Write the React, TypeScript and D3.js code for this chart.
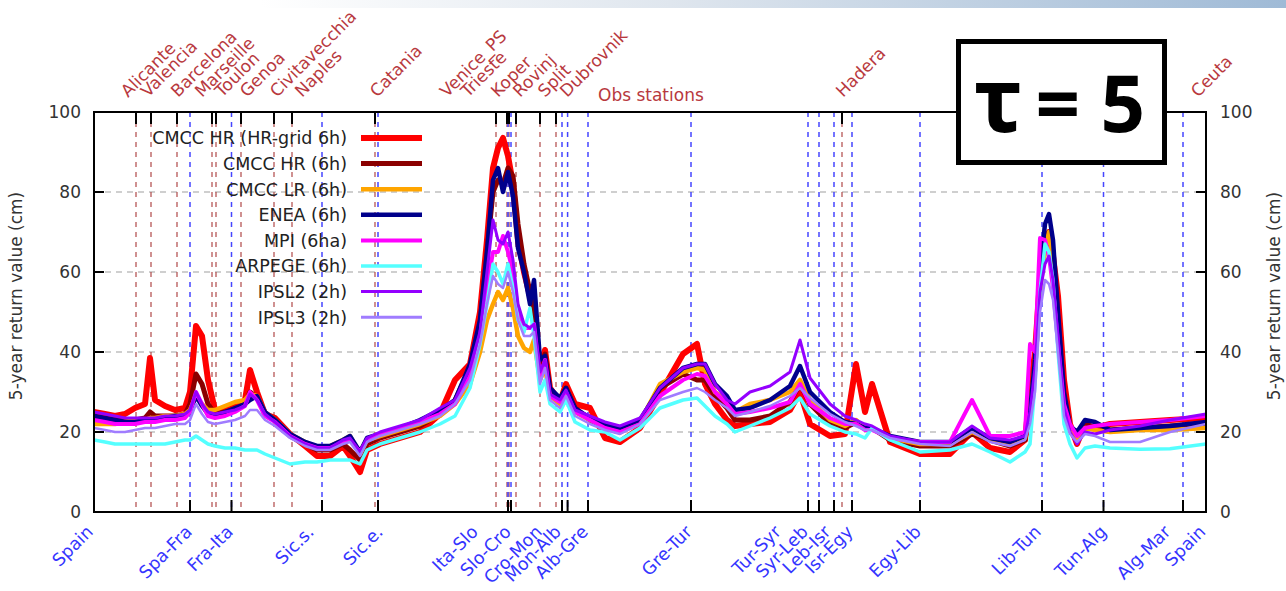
import React, { useEffect, useRef } from 'react'
import { select, scaleLinear, line } from 'd3'

// along-coast position of each sample (coast index, Spain -> ... -> Spain)
const coastIdx = [0, 11, 21, 31, 41, 51, 56, 61, 71, 81, 91, 96, 102, 108, 114, 121, 131, 141, 151, 156, 163, 171, 181, 196, 211, 223, 236, 249, 256, 266, 273, 286, 306, 326, 346, 361, 376, 386, 393, 399, 404, 409, 414, 419, 424, 430, 436, 440, 446, 451, 456, 466, 472, 481, 496, 511, 526, 546, 566, 589, 603, 611, 621, 633, 641, 656, 676, 696, 706, 716, 736, 751, 762, 771, 778, 796, 826, 856, 878, 896, 916, 931, 936, 941, 946, 951, 955, 959, 964, 970, 976, 983, 991, 1001, 1016, 1046, 1076, 1112]

// 5-year return values (cm)
const cmccHrGrid = [25, 24.5, 24, 24.5, 26, 27, 38.5, 28, 26.5, 25.5, 26, 30, 46.5, 44, 33, 25.5, 25.5, 26.5, 28, 35.5, 30, 24.5, 23.5, 19.5, 16.5, 14, 14, 16.5, 14, 10, 15.5, 17, 18.5, 20, 24.5, 33, 37, 50, 68, 86, 91, 93.5, 89, 82, 68, 60, 54, 49, 36, 40.5, 31, 27.5, 32, 27, 26, 18.5, 17.5, 21, 29.5, 39.5, 42, 32, 27, 23, 21.5, 22, 22.5, 25.5, 30, 22, 19, 19.5, 37, 25, 32, 17.5, 14.5, 14.5, 20, 16, 15, 18, 30, 40, 58, 67, 70, 64, 54, 33, 22, 17, 22, 21, 22, 22.5, 23, 23.5]
const cmccHr = [24, 23, 23, 23, 23, 23.5, 25, 24, 24, 24, 24.5, 27, 34.5, 32, 27, 24.5, 25, 25.5, 27, 30, 28.5, 24.5, 23, 19, 17, 15.5, 15.5, 17, 15.5, 13, 17, 18.5, 20, 21.5, 24.5, 28, 36, 47, 65, 80, 83, 82, 86, 84, 72, 62, 55, 50, 37, 39.5, 30.5, 28, 31, 26, 23, 21, 20, 22.5, 31, 34.5, 33, 33, 29, 26, 23, 23, 24, 27.5, 32, 27, 22, 21, 22.5, 21, 21, 18, 16.5, 16.5, 19.5, 18, 16.5, 18, 26, 36, 57, 68, 70, 64, 48, 28, 21, 18.5, 22, 21, 20.5, 21, 21.5, 22]
const cmccLr = [22, 22, 22, 22.5, 23, 23, 23.5, 23.5, 24, 24, 24.5, 25.5, 29, 27, 25.5, 25.5, 26.5, 27.5, 28, 29.5, 29, 25, 23, 19.5, 17.5, 16, 16.5, 18, 19, 14.5, 18, 19, 20.5, 22, 24, 27, 32, 40, 48, 52, 55, 53, 56, 51, 44, 41, 40, 43, 33, 36, 29, 27, 30, 25, 23, 21.5, 20.5, 22.5, 32, 35, 36, 35.5, 30, 28, 25, 27, 28, 30, 33, 28, 23, 21.5, 23, 21, 21, 18.5, 17, 17, 20, 18, 17, 18.5, 25, 37, 55, 66, 70, 62, 47, 28, 21, 18, 21, 20.5, 20, 20.5, 20.5, 21]
const enea = [24, 23.5, 23, 22.5, 22.5, 23, 23, 23, 23.5, 24, 24, 25, 29, 26.5, 24.5, 24, 25, 26, 27, 28, 29, 25, 23, 19.5, 17.5, 16.5, 16.5, 18, 19, 15, 18.5, 19.5, 21, 23, 25.5, 28, 37, 48, 65, 83, 86, 80, 85, 79, 66, 60, 52, 58, 38, 39, 31, 28.5, 31, 26, 23.5, 22, 21, 23, 31, 36, 37, 37, 32, 29, 25.5, 26, 28, 31.5, 36.5, 30, 25, 22.5, 22, 21, 21, 19, 17.5, 17.5, 21, 18.5, 17.5, 19, 25, 38, 60, 72, 74.5, 68, 50, 30, 21.5, 20, 23, 22.5, 20.5, 21, 21.5, 22.5]
const mpi = [23, 22.5, 22, 22, 22, 22.5, 22.5, 22.5, 23, 23, 23.5, 25, 30, 27, 24, 23.5, 24, 25, 26.5, 30, 28, 24, 22.5, 19, 17, 16, 16, 17.5, 18, 15, 18, 19.5, 21, 22.5, 24.5, 27, 34, 44, 56, 65, 65, 69, 65, 60, 50, 46, 46, 47, 34, 38, 29, 27.5, 30, 25, 23, 21, 20, 22, 29, 33, 34.5, 34, 30, 27, 24.5, 25, 26, 27.5, 32, 27, 23.5, 22, 22, 20.5, 20.5, 18.5, 17.5, 17.5, 28, 19, 19, 20, 42, 40, 68.5, 68, 64, 56, 42, 27, 22, 19, 21, 21.5, 22, 22.5, 23, 24]
const arpege = [18, 17.5, 17, 17, 17, 17, 17, 17, 17, 17.5, 18, 18, 19, 18, 17, 16.5, 16, 16, 15.5, 15.5, 15.5, 14.5, 13.5, 12, 12.5, 12.5, 13, 13, 13, 12, 15.5, 17, 18.5, 20, 22, 24, 31, 42, 52, 62, 60, 57, 62, 56, 48, 45, 51, 44, 30, 33, 27, 25, 28, 22.5, 20.5, 20, 18, 21, 26, 28, 28.5, 26.5, 24, 22, 20, 21.5, 23.5, 26, 28.5, 24.5, 21.5, 20, 19.5, 18.5, 21, 18, 15, 15.5, 17, 15, 12.5, 15, 17, 32, 55, 67, 65, 58, 40, 22, 17, 13.5, 16, 16.5, 16, 15.7, 15.8, 17]
const ipsl2 = [25, 24.5, 24, 23.5, 23.5, 23.5, 23.5, 23.5, 24, 24, 24.5, 25.5, 30, 27, 25, 24.5, 25, 25.5, 26.5, 29.5, 28, 24.5, 22.5, 19, 17, 16, 16, 18, 18.5, 15, 18.5, 20, 21.5, 23, 26, 28, 36, 45, 60, 73, 68, 67, 70, 63, 52, 47, 46, 47, 35, 38, 29.5, 28, 30.5, 25.5, 24, 22.5, 21.5, 23.5, 31, 36, 37, 37, 32, 28, 27, 30, 31.5, 35, 43, 33.5, 27, 24, 23, 22, 21.5, 19, 17.5, 17.5, 21.5, 18.5, 18, 19, 25, 36, 55, 62, 64, 58, 44, 26, 20, 17, 20, 19.5, 20.5, 21.5, 23, 24.5]
const ipsl3 = [21, 20.5, 20, 20, 20.5, 21, 21, 21, 21.5, 22, 22, 23, 27, 24.5, 22.5, 22, 22.5, 23, 24, 25.5, 25.5, 23, 21.5, 18.5, 16.5, 15.5, 15.5, 17, 17.5, 14, 17.5, 19, 20.5, 22, 24, 27, 33, 42, 52, 59, 57, 56, 60, 55, 48, 44, 44, 45, 32, 36, 28, 26, 29, 24, 22, 20.5, 19.5, 22, 28, 30, 31, 30, 28, 26, 24, 25, 26.5, 29, 31, 28.5, 24.5, 22.5, 21.5, 20.5, 20.5, 18.5, 17, 16.5, 20, 17.5, 16.5, 18, 22, 30, 50, 58, 57, 53, 40, 24, 19.5, 17.5, 19.5, 19, 17.5, 17.5, 20, 22]

const seriesNames = ['CMCC HR (HR-grid 6h)', 'CMCC HR (6h)', 'CMCC LR (6h)', 'ENEA (6h)', 'MPI (6ha)', 'ARPEGE (6h)', 'IPSL2 (2h)', 'IPSL3 (2h)']
const seriesValues = [cmccHrGrid, cmccHr, cmccLr, enea, mpi, arpege, ipsl2, ipsl3]
const seriesColors = ['#ff0000', '#8b0000', '#ffa500', '#00008b', '#ff00ff', '#55ffff', '#9400ff', '#a07cff']
const seriesWidths = [6, 5, 4.5, 4.5, 4, 3.5, 3, 2.5]

// country borders along the coast
const borderNames = ['Spain', 'Spa-Fra', 'Fra-Ita', 'Sic.s.', 'Sic.e.', 'Ita-Slo', 'Slo-Cro', 'Cro-Mon', 'Mon-Alb', 'Alb-Gre', 'Gre-Tur', 'Tur-Syr', 'Syr-Leb', 'Leb-Isr', 'Isr-Egy', 'Egy-Lib', 'Lib-Tun', 'Tun-Alg', 'Alg-Mar', 'Spain']
const borderAt = [0, 96, 137.5, 228, 284, 414, 417, 468, 473.6, 494, 597, 714, 725, 740, 758, 826, 948, 1009.5, 1089, 1112]
const borderLabelAt = [0, 99, 140, 221, 290, 385, 418, 449, 468, 495, 599, 688, 715, 737.6, 760, 828, 948, 1013.6, 1077.5, 1112.5]

// tide gauge stations
const stationNames = ['Alicante', 'Valencia', 'Barcelona', 'Marseille', 'Toulon', 'Genoa', 'Civitavecchia', 'Naples', 'Catania', 'Venice_PS', 'Trieste', 'Koper', 'Rovinj', 'Split', 'Dubrovnik', 'Hadera', 'Ceuta']
const stationAt = [42, 57, 83, 118, 122, 147, 180, 198, 281, 402, 413, 415, 422, 446, 462, 748, null]
const stationLabelAt = [34, 54, 84, 108, 128, 153, 183, 208, 283, 353, 374, 404, 426, 451, 473, 749, 1104]

const yTicks = [0, 20, 40, 60, 80, 100]

const W = 1286
const H = 591
const margin = { top: 112, right: 80, bottom: 79, left: 94 }
const font = "'DejaVu Sans', Verdana, sans-serif"
const stationRed = '#b8393e'
const borderBlue = '#3434ff'

function drawChart(svg: any) {
  const iw = W - margin.left - margin.right
  const ih = H - margin.top - margin.bottom
  const x = scaleLinear().domain([0, 1112]).range([margin.left, margin.left + iw])
  const y = scaleLinear().domain([0, 100]).range([margin.top + ih, margin.top])

  svg.append('rect').attr('width', W).attr('height', H).attr('fill', '#fff')

  // slide decoration band on top
  const defs = svg.append('defs')
  const grad = defs.append('linearGradient').attr('id', 'topband').attr('x1', 0).attr('x2', 1).attr('y1', 0).attr('y2', 0)
  grad.append('stop').attr('offset', '0%').attr('stop-color', '#ffffff')
  grad.append('stop').attr('offset', '40%').attr('stop-color', '#dfe6ee')
  grad.append('stop').attr('offset', '100%').attr('stop-color', '#9fbad6')
  svg.append('rect').attr('x', 260).attr('y', 0).attr('width', W - 260).attr('height', 8).attr('fill', 'url(#topband)')

  defs.append('clipPath').attr('id', 'plotclip')
    .append('rect').attr('x', margin.left).attr('y', margin.top).attr('width', iw).attr('height', ih)

  // horizontal grid
  svg.append('g').selectAll('line').data(yTicks.filter(d => d > 0 && d < 100)).join('line')
    .attr('x1', margin.left).attr('x2', margin.left + iw)
    .attr('y1', (d: number) => y(d)).attr('y2', (d: number) => y(d))
    .attr('stroke', '#a0a0a0').attr('stroke-width', 1.2).attr('stroke-dasharray', '6,5')

  // station verticals
  const stIdx = stationAt.map((d, i) => i).filter(i => stationAt[i] !== null)
  svg.append('g').selectAll('line').data(stIdx).join('line')
    .attr('x1', (i: number) => x(stationAt[i] as number)).attr('x2', (i: number) => x(stationAt[i] as number))
    .attr('y1', margin.top).attr('y2', margin.top + ih)
    .attr('stroke', '#b04848').attr('stroke-width', 1.2).attr('stroke-dasharray', '5,5')

  // border verticals
  const bIdx = borderAt.map((d, i) => i).filter(i => i > 0 && i < borderAt.length - 1)
  svg.append('g').selectAll('line').data(bIdx).join('line')
    .attr('x1', (i: number) => x(borderAt[i])).attr('x2', (i: number) => x(borderAt[i]))
    .attr('y1', margin.top).attr('y2', margin.top + ih)
    .attr('stroke', '#4646ff').attr('stroke-width', 1.5).attr('stroke-dasharray', '5,5')

  // model lines
  const gLines = svg.append('g').attr('clip-path', 'url(#plotclip)')
  seriesValues.forEach((vals, s) => {
    const pts = coastIdx.map((c, i) => [c, vals[i]] as [number, number])
    const path = line<[number, number]>().x(d => x(d[0])).y(d => y(d[1]))
    gLines.append('path').attr('d', path(pts))
      .attr('fill', 'none').attr('stroke', seriesColors[s]).attr('stroke-width', seriesWidths[s])
      .attr('stroke-linejoin', 'round')
  })

  // frame
  svg.append('rect').attr('x', margin.left).attr('y', margin.top).attr('width', iw).attr('height', ih)
    .attr('fill', 'none').attr('stroke', '#000').attr('stroke-width', 2)

  // y ticks both sides
  const gy = svg.append('g')
  yTicks.forEach(t => {
    gy.append('line').attr('x1', margin.left).attr('x2', margin.left + 10).attr('y1', y(t)).attr('y2', y(t)).attr('stroke', '#000').attr('stroke-width', 2)
    gy.append('line').attr('x1', margin.left + iw - 10).attr('x2', margin.left + iw).attr('y1', y(t)).attr('y2', y(t)).attr('stroke', '#000').attr('stroke-width', 2)
    gy.append('text').attr('x', margin.left - 13).attr('y', y(t)).attr('dy', '0.36em').attr('text-anchor', 'end')
      .attr('font-family', font).attr('font-size', 17).attr('fill', '#333').text(t)
    gy.append('text').attr('x', margin.left + iw + 14).attr('y', y(t)).attr('dy', '0.36em').attr('text-anchor', 'start')
      .attr('font-family', font).attr('font-size', 17).attr('fill', '#333').text(t)
  })

  const yTitle = '5-year return value (cm)'
  svg.append('text').attr('transform', `translate(22, 296) rotate(-90)`).attr('text-anchor', 'middle')
    .attr('font-family', font).attr('font-size', 17).attr('fill', '#333').text(yTitle)
  svg.append('text').attr('transform', `translate(1280, 296) rotate(-90)`).attr('text-anchor', 'middle')
    .attr('font-family', font).attr('font-size', 17).attr('fill', '#333').text(yTitle)

  // station ticks on top and labels
  svg.append('g').selectAll('line').data(stIdx).join('line')
    .attr('x1', (i: number) => x(stationAt[i] as number)).attr('x2', (i: number) => x(stationAt[i] as number))
    .attr('y1', margin.top).attr('y2', margin.top + 12)
    .attr('stroke', '#000').attr('stroke-width', 2)
  svg.append('g').selectAll('text').data(stationNames).join('text')
    .attr('transform', (d: string, i: number) => `translate(${x(stationLabelAt[i])}, 98) rotate(-45)`)
    .attr('font-family', font).attr('font-size', 17).attr('fill', stationRed)
    .text((d: string) => d)
  svg.append('text').attr('x', 598).attr('y', 101).attr('font-family', font).attr('font-size', 17)
    .attr('fill', stationRed).text('Obs stations')

  // border ticks on bottom and labels
  svg.append('g').selectAll('line').data(bIdx).join('line')
    .attr('x1', (i: number) => x(borderAt[i])).attr('x2', (i: number) => x(borderAt[i]))
    .attr('y1', margin.top + ih).attr('y2', margin.top + ih - 12)
    .attr('stroke', '#000').attr('stroke-width', 2)
  svg.append('g').selectAll('text').data(borderNames).join('text')
    .attr('transform', (d: string, i: number) => `translate(${x(borderLabelAt[i])}, 533) rotate(-45)`)
    .attr('text-anchor', 'end')
    .attr('font-family', font).attr('font-size', 17.5).attr('fill', borderBlue)
    .text((d: string) => d)

  // legend
  const lg = svg.append('g')
  seriesNames.forEach((name, s) => {
    const cy = 138 + s * 25.6
    lg.append('text').attr('x', 347).attr('y', cy).attr('dy', '0.36em').attr('text-anchor', 'end')
      .attr('font-family', font).attr('font-size', 17.5).attr('fill', '#222').text(name)
    lg.append('line').attr('x1', 361).attr('x2', 422).attr('y1', cy).attr('y2', cy)
      .attr('stroke', seriesColors[s]).attr('stroke-width', Math.max(seriesWidths[s], 3))
  })

  // tau annotation box
  const tauFont = "'Noto Sans', 'Open Sans', sans-serif"
  svg.append('rect').attr('x', 958.5).attr('y', 41.5).attr('width', 206).attr('height', 121)
    .attr('fill', '#fff').attr('stroke', '#000').attr('stroke-width', 5)
  svg.append('text').attr('x', 974).attr('y', 132)
    .attr('font-family', tauFont).attr('font-weight', 'bold').attr('font-size', 90)
    .attr('fill', '#000').text('τ')
  svg.append('text').attr('x', 1145).attr('y', 132).attr('text-anchor', 'end')
    .attr('font-family', tauFont).attr('font-weight', 'bold').attr('font-size', 78)
    .attr('fill', '#000').text('= 5')
}

export default function App() {
  const svgRef = useRef<SVGSVGElement | null>(null)

  useEffect(() => {
    const svg = select(svgRef.current)
    svg.selectAll('*').remove()
    drawChart(svg)
    return () => {
      svg.selectAll('*').remove()
    }
  }, [])

  return (
    <svg ref={svgRef} width={W} height={H}
      style={{ position: 'absolute', left: 0, top: 0, display: 'block' }} />
  )
}
